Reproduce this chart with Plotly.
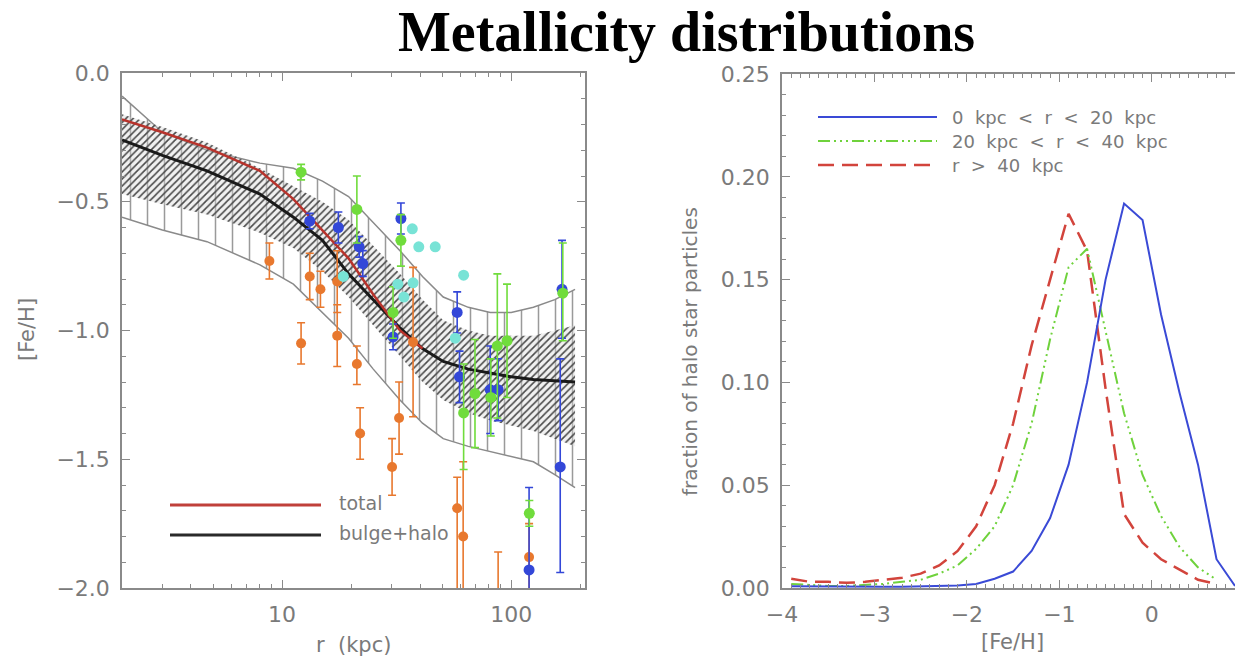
import plotly.graph_objects as go

# ---------------- Left panel: [Fe/H] vs r ----------------
r_grid = [2, 3, 4.7, 8, 11.2, 15, 19.5, 25, 32.7, 41, 50.5, 65, 81, 100, 125, 155, 190]
outer_upper = [-0.09, -0.23, -0.30, -0.35, -0.37, -0.42, -0.48, -0.58, -0.69, -0.79, -0.87, -0.91, -0.93, -0.93, -0.91, -0.88, -0.84]
outer_lower = [-0.56, -0.61, -0.655, -0.745, -0.82, -0.93, -1.03, -1.15, -1.27, -1.36, -1.42, -1.45, -1.47, -1.49, -1.51, -1.56, -1.61]
inner_upper = [-0.16, -0.21, -0.27, -0.37, -0.44, -0.50, -0.57, -0.67, -0.78, -0.88, -0.96, -1.00, -1.02, -1.02, -1.02, -1.00, -0.98]
inner_lower = [-0.47, -0.51, -0.55, -0.62, -0.68, -0.77, -0.87, -0.98, -1.10, -1.20, -1.27, -1.32, -1.35, -1.37, -1.39, -1.42, -1.45]
bulge_halo = [-0.26, -0.32, -0.38, -0.47, -0.56, -0.65, -0.78, -0.88, -0.99, -1.07, -1.12, -1.15, -1.165, -1.18, -1.19, -1.195, -1.20]
total = [-0.18, -0.23, -0.29, -0.38, -0.49, -0.61, -0.72, -0.86, -1.00, -1.07, None, None, None, None, None, None, None]

orange_r = [8.8, 12.1, 13.2, 14.7, 17.4, 17.4, 21.2, 21.9, 30.2, 32.4, 37.3, 58.1, 61.7, 87.7, 119.7]
orange_feh = [-0.73, -1.05, -0.79, -0.84, -0.81, -1.02, -1.13, -1.40, -1.53, -1.34, -1.045, -1.69, -1.80, -2.02, -1.88]
orange_ep = [0.07, 0.08, 0.09, 0.07, 0.12, 0.12, 0.07, 0.10, 0.11, 0.14, 0.29, 0.12, 0.29, 0.16, 0.13]
orange_em = [0.07, 0.08, 0.09, 0.07, 0.12, 0.12, 0.08, 0.10, 0.11, 0.14, 0.29, 0.40, 0.30, 0.10, 0.20]

blue_r = [13.2, 17.6, 21.7, 22.5, 33.0, 30.5, 58.1, 59.5, 81.0, 87.7, 166.7, 163.7, 119.7]
blue_feh = [-0.575, -0.60, -0.675, -0.74, -0.565, -1.025, -0.93, -1.18, -1.23, -1.23, -0.84, -1.53, -1.93]
blue_ep = [0.03, 0.06, 0.04, 0.05, 0.06, 0.05, 0.08, 0.10, 0.17, 0.12, 0.19, 0.42, 0.32]
blue_em = [0.03, 0.06, 0.04, 0.05, 0.06, 0.05, 0.08, 0.10, 0.17, 0.12, 0.19, 0.41, 0.20]

green_r = [12.1, 21.2, 33.0, 30.5, 62.0, 69.5, 81.5, 87.0, 95.9, 168.0, 120.0]
green_feh = [-0.385, -0.53, -0.65, -0.93, -1.32, -1.245, -1.26, -1.06, -1.04, -0.855, -1.71]
green_ep = [0.03, 0.13, 0.10, 0.10, 0.19, 0.21, 0.15, 0.28, 0.22, 0.195, 0.05]
green_em = [0.03, 0.13, 0.10, 0.10, 0.22, 0.21, 0.15, 0.28, 0.22, 0.185, 0.05]

cyan_r = [18.5, 32.0, 34.0, 37.3, 37.0, 39.5, 46.6, 57.0, 62.0]
cyan_feh = [-0.79, -0.82, -0.87, -0.815, -0.605, -0.675, -0.675, -1.03, -0.785]

# ---------------- Right panel: distributions ----------------
feh_bins = [-3.9, -3.7, -3.5, -3.3, -3.1, -2.9, -2.7, -2.5, -2.3, -2.1, -1.9, -1.7, -1.5,
            -1.3, -1.1, -0.9, -0.7, -0.5, -0.3, -0.1, 0.1, 0.3, 0.5, 0.7, 0.9]
frac_inner = [0.0008, 0.0007, 0.0006, 0.0006, 0.0006, 0.0006, 0.0006, 0.0007, 0.0009, 0.0012, 0.002, 0.0045,
              0.008, 0.018, 0.034, 0.060, 0.100, 0.150, 0.187, 0.179, 0.133, 0.095, 0.060, 0.014, 0.001]
frac_mid = [0.002, 0.0015, 0.001, 0.001, 0.0015, 0.002, 0.003, 0.004, 0.007, 0.011, 0.019, 0.030,
            0.050, 0.080, 0.121, 0.156, 0.165, 0.125, 0.085, 0.055, 0.035, 0.020, 0.010, 0.004, None]
frac_outer = [0.0045, 0.003, 0.003, 0.0025, 0.003, 0.004, 0.005, 0.007, 0.011, 0.018, 0.030, 0.050,
              0.080, 0.118, 0.150, 0.182, 0.164, 0.097, 0.036, 0.022, 0.014, 0.009, 0.004, 0.002, None]

GRAY = "#8a8a8a"
TXT = "#7a7a7a"
FONT = "DejaVu Sans"

fig = go.Figure()

# outer band (vertical hatching)
fig.add_trace(go.Scatter(x=r_grid, y=outer_upper, mode="lines", line=dict(color=GRAY, width=1.5),
                         showlegend=False, xaxis="x", yaxis="y"))
fig.add_trace(go.Scatter(x=r_grid, y=outer_lower, mode="lines", line=dict(color=GRAY, width=1.5),
                         fill="tonexty", fillcolor="rgba(0,0,0,0)",
                         fillpattern=dict(shape="|", size=17, solidity=0.09, fgcolor="#9a9a9a",
                                          bgcolor="rgba(0,0,0,0)", fillmode="replace"),
                         showlegend=False, xaxis="x", yaxis="y"))
# inner band (diagonal hatching)
fig.add_trace(go.Scatter(x=r_grid, y=inner_upper, mode="lines", line=dict(color="rgba(0,0,0,0)", width=0),
                         showlegend=False, xaxis="x", yaxis="y"))
fig.add_trace(go.Scatter(x=r_grid, y=inner_lower, mode="lines", line=dict(color="rgba(0,0,0,0)", width=0),
                         fill="tonexty", fillcolor="rgba(0,0,0,0)",
                         fillpattern=dict(shape="/", size=5, solidity=0.32, fgcolor="#4a4a4a",
                                          bgcolor="rgba(215,215,215,0.35)", fillmode="replace"),
                         showlegend=False, xaxis="x", yaxis="y"))

fig.add_trace(go.Scatter(x=r_grid, y=bulge_halo, mode="lines", line=dict(color="#1a1a1a", width=3),
                         showlegend=False, xaxis="x", yaxis="y"))
fig.add_trace(go.Scatter(x=r_grid, y=total, mode="lines", line=dict(color="#b8332c", width=2.5),
                         showlegend=False, xaxis="x", yaxis="y"))


def pts(r, f, ep, em, color, size=10):
    return go.Scatter(x=r, y=f, mode="markers", marker=dict(color=color, size=size),
                      error_y=dict(type="data", symmetric=False, array=ep, arrayminus=em,
                                   color=color, thickness=1.6, width=4),
                      showlegend=False, xaxis="x", yaxis="y")


fig.add_trace(pts(orange_r, orange_feh, orange_ep, orange_em, "#e8782e"))
fig.add_trace(pts(blue_r, blue_feh, blue_ep, blue_em, "#3347d8", 11))
fig.add_trace(pts(green_r, green_feh, green_ep, green_em, "#70dc3c", 11))
fig.add_trace(go.Scatter(x=cyan_r, y=cyan_feh, mode="markers", marker=dict(color="#78e3d6", size=11),
                         showlegend=False, xaxis="x", yaxis="y"))

# right panel lines
fig.add_trace(go.Scatter(x=feh_bins, y=frac_outer, mode="lines",
                         line=dict(color="#d2443c", width=2.5, dash="16px,8px"),
                         showlegend=False, xaxis="x2", yaxis="y2"))
fig.add_trace(go.Scatter(x=feh_bins, y=frac_mid, mode="lines",
                         line=dict(color="#6fd23c", width=2, dash="12px,4px,2px,4px,2px,4px,2px,4px"),
                         showlegend=False, xaxis="x2", yaxis="y2"))
fig.add_trace(go.Scatter(x=feh_bins, y=frac_inner, mode="lines",
                         line=dict(color="#3a4ad6", width=2),
                         showlegend=False, xaxis="x2", yaxis="y2"))

W, H = 1235, 663
axcommon = dict(showline=True, linecolor=GRAY, linewidth=1.5, ticks="inside", tickcolor=GRAY,
                tickwidth=1.2, showgrid=False, zeroline=False, automargin=False,
                tickfont=dict(family=FONT, size=22, color=TXT))

fig.update_layout(
    width=W, height=H, margin=dict(l=0, r=0, t=0, b=0, pad=0, autoexpand=False),
    paper_bgcolor="white", plot_bgcolor="white",
    xaxis=dict(**axcommon, domain=[122 / W, 585 / W], type="log",
               range=[0.30103, 2.3222], tickvals=[10, 100], ticktext=["10", "100"],
               ticklen=8, mirror="ticks", ticklabelstandoff=6,
               minor=dict(ticks="inside", ticklen=4, tickcolor=GRAY,
                          tickvals=[3, 4, 5, 6, 7, 8, 9, 20, 30, 40, 50, 60, 70, 80, 90, 200])),
    yaxis=dict(**axcommon, domain=[(H - 588) / H, (H - 73) / H], anchor="x",
               range=[-2.0, 0.0], tickvals=[-2.0, -1.5, -1.0, -0.5, 0.0], tickformat=".1f",
               ticklen=8, mirror="ticks", ticklabelstandoff=6,
               minor=dict(ticks="inside", ticklen=4, tickcolor=GRAY, dtick=0.1)),
    xaxis2=dict(**axcommon, domain=[782 / W, 1.0], anchor="y2", range=[-4, 0.9],
                tickvals=[-4, -3, -2, -1, 0], ticklen=8, mirror="ticks", ticklabelstandoff=6,
                minor=dict(ticks="inside", ticklen=4, tickcolor=GRAY, dtick=0.1)),
    yaxis2=dict(**axcommon, domain=[(H - 588) / H, (H - 74) / H], anchor="x2",
                range=[0, 0.25], tickvals=[0, 0.05, 0.10, 0.15, 0.20, 0.25], tickformat=".2f",
                ticklen=8, ticklabelstandoff=6,
                minor=dict(ticks="inside", ticklen=4, tickcolor=GRAY, dtick=0.01)),
)

ann = []
ann.append(dict(text="<b>Metallicity distributions</b>", x=686 / W, y=1 - 32 / H, xref="paper", yref="paper",
                showarrow=False, xanchor="center", yanchor="middle",
                font=dict(family="Liberation Serif", size=56, color="black")))
ann.append(dict(text="[Fe/H]", x=27 / W, y=1 - 330 / H, xref="paper", yref="paper", textangle=-90,
                showarrow=False, xanchor="center", yanchor="middle",
                font=dict(family=FONT, size=21, color=TXT)))
ann.append(dict(text="r  (kpc)", x=353 / W, y=1 - 645 / H, xref="paper", yref="paper",
                showarrow=False, xanchor="center", yanchor="middle",
                font=dict(family=FONT, size=21, color=TXT)))
ann.append(dict(text="fraction of halo star particles", x=690 / W, y=1 - 352 / H, xref="paper", yref="paper",
                textangle=-90, showarrow=False, xanchor="center", yanchor="middle",
                font=dict(family=FONT, size=20, color=TXT)))
ann.append(dict(text="[Fe/H]", x=1012 / W, y=1 - 642 / H, xref="paper", yref="paper",
                showarrow=False, xanchor="center", yanchor="middle",
                font=dict(family=FONT, size=21, color=TXT)))

# left legend
shapes = []
leg_left = [("total", "#c0403a", 505), ("bulge+halo", "#2a2a2a", 535)]
for label, col, py in leg_left:
    shapes.append(dict(type="line", xref="paper", yref="paper", x0=170 / W, x1=321 / W,
                       y0=1 - py / H, y1=1 - py / H, line=dict(color=col, width=3)))
    ann.append(dict(text=label, x=337 / W, y=1 - (py - 2) / H, xref="paper", yref="paper",
                    showarrow=False, xanchor="left", yanchor="middle",
                    font=dict(family=FONT, size=19, color=TXT)))

# right legend
leg_right = [("0  kpc  <  r  <  20  kpc", "#3a4ad6", None, 117, 2),
             ("20  kpc  <  r  <  40  kpc", "#6fd23c", "12px,4px,2px,4px,2px,4px,2px,4px", 141, 2),
             ("r  >  40  kpc", "#d2443c", "16px,8px", 165, 2.5)]
for label, col, dash, py, wd in leg_right:
    ln = dict(color=col, width=wd)
    if dash:
        ln["dash"] = dash
    shapes.append(dict(type="line", xref="paper", yref="paper", x0=818 / W, x1=937 / W,
                       y0=1 - py / H, y1=1 - py / H, line=ln))
    ann.append(dict(text=label, x=950 / W, y=1 - py / H, xref="paper", yref="paper",
                    showarrow=False, xanchor="left", yanchor="middle",
                    font=dict(family=FONT, size=18, color=TXT)))

fig.update_layout(annotations=ann, shapes=shapes)
fig.write_html("out.html")
